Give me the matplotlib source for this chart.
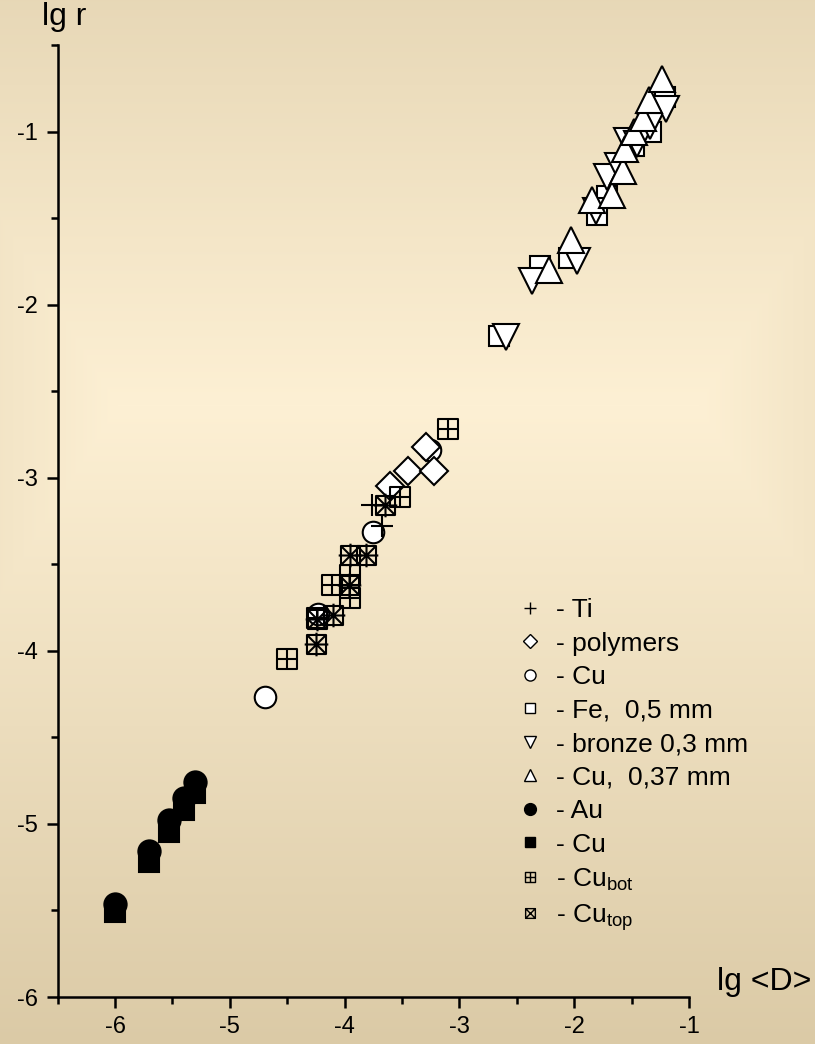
#Scaling of lg r against lg <D> for several materials.

import numpy as np
import matplotlib
matplotlib.use("Agg")
import matplotlib.pyplot as plt
from matplotlib.path import Path
from matplotlib.lines import Line2D

#Font settings.
plt.rcParams['font.family'] = ['Liberation Sans', 'DejaVu Sans']
plt.rcParams['mathtext.fontset'] = 'custom'
plt.rcParams['mathtext.rm'] = 'Liberation Sans'

#Data: lg <D> (x) and lg r (y) for every series.
ti_x = [-3.764, -3.677]
ti_y = [-3.156, -3.281]
poly_x = [-3.294, -3.450, -3.218, -3.604]
poly_y = [-2.825, -2.960, -2.963, -3.046]
cu_x = [-4.693, -4.232, -3.753, -3.256]
cu_y = [-4.266, -3.790, -3.312, -2.838]
fe_x = [-2.652, -2.298, -2.042, -1.804, -1.717, -1.476, -1.334, -1.209]
fe_y = [-2.183, -1.779, -1.730, -1.480, -1.370, -1.081, -1.004, -0.800]
bronze_x = [-2.596, -2.370, -1.973, -1.810, -1.717, -1.616, -1.537, -1.450, -1.340, -1.200]
bronze_y = [-2.186, -1.865, -1.747, -1.460, -1.262, -1.197, -1.052, -1.070, -0.970, -0.869]
cu37_x = [-2.217, -2.031, -1.848, -1.668, -1.578, -1.557, -1.476, -1.403, -1.346, -1.238]
cu37_y = [-1.800, -1.624, -1.393, -1.364, -1.229, -1.100, -1.004, -0.923, -0.819, -0.694]
au_x = [-6.00, -5.70, -5.53, -5.40, -5.30]
au_y = [-5.460, -5.156, -4.977, -4.851, -4.755]
cub_x = [-6.00, -5.70, -5.53, -5.40, -5.30]
cub_y = [-5.510, -5.220, -5.046, -4.920, -4.820]
bot_x = [-3.097, -3.517, -4.112, -3.953, -3.953, -4.499, -4.238]
bot_y = [-2.719, -3.114, -3.618, -3.692, -3.561, -4.046, -3.810]
top_x = [-3.648, -3.953, -3.814, -3.959, -4.104, -4.238, -4.249]
top_y = [-3.156, -3.445, -3.445, -3.618, -3.792, -3.817, -3.961]

xticks = [-6, -5, -4, -3, -2, -1]
yticks = [-6, -5, -4, -3, -2, -1]

#Custom markers: square with a cross inside, square with diagonals.
def square_path(plus=0.0, diag=False, cross=True):
    verts = [(-0.5, -0.5), (0.5, -0.5), (0.5, 0.5), (-0.5, 0.5), (-0.5, -0.5)]
    codes = [Path.MOVETO] + [Path.LINETO]*3 + [Path.CLOSEPOLY]
    e = 0.5 + plus
    if cross:
        verts += [(-e, 0), (e, 0), (0, -e), (0, e)]
        codes += [Path.MOVETO, Path.LINETO, Path.MOVETO, Path.LINETO]
    if diag:
        verts += [(-0.5, -0.5), (0.5, 0.5), (-0.5, 0.5), (0.5, -0.5)]
        codes += [Path.MOVETO, Path.LINETO, Path.MOVETO, Path.LINETO]
    return Path(verts, codes)

bot_marker = square_path()
top_marker = square_path(plus=0.12, diag=True)
top_legend_marker = square_path(diag=True, cross=False)

fig = plt.figure(figsize=(8.15, 10.44), dpi=100)

#Background gradient, lighter towards the middle.
bg = fig.add_axes([0, 0, 1, 1], zorder=-1)
H, W = 1044, 815
yy, xx = np.mgrid[0:H, 0:W]
d = np.maximum(1.6*np.maximum(0, np.abs(xx - 408) - 290), np.abs(yy - 405))
t = np.clip(d/640.0, 0, 1)
c0 = np.array([253, 240, 212])/255.0
c1 = np.array([219, 202, 166])/255.0
img = c0[None, None, :]*(1 - t[..., None]) + c1[None, None, :]*t[..., None]
bg.imshow(img, aspect='auto', extent=[0, 1, 0, 1], interpolation='bilinear')
bg.axis('off')

ax = fig.add_axes([0.0707, 0.045, 0.7747, 0.9119])
ax.set_facecolor('none')

lw = 1.5
common = dict(ls='none', mec='k', mew=lw, clip_on=False)
ax.plot(fe_x, fe_y, marker='s', ms=14, mfc='white', **common)
ax.plot(bronze_x, bronze_y, marker='v', ms=19, mfc='white', **common)
ax.plot(cu37_x, cu37_y, marker='^', ms=19, mfc='white', **common)
ax.plot(cu_x, cu_y, marker='o', ms=15.5, mfc='white', **common)
ax.plot(poly_x, poly_y, marker='D', ms=14.5, mfc='white', **common)
ax.plot(bot_x, bot_y, marker=bot_marker, ms=14, mfc='none', **common)
ax.plot(top_x, top_y, marker=top_marker, ms=17, mfc='none', **common)
ax.plot(ti_x, ti_y, marker='+', ms=16, **common)
ax.plot(au_x, au_y, marker='o', ms=16, mfc='k', **common)
ax.plot(cub_x, cub_y, marker='s', ms=14.5, mfc='k', **common)

#Axes limits, ticks and spines.
ax.set_xlim(-6.5, -1)
ax.set_ylim(-6, -0.5)
ax.set_xticks(xticks)
ax.set_yticks(yticks)
ax.set_xticklabels([str(v) for v in xticks])
ax.set_yticklabels([str(v) for v in yticks])
ax.set_xticks(np.arange(-6.5, -0.9, 0.5), minor=True)
ax.set_yticks(np.arange(-5.5, -0.4, 0.5), minor=True)
ax.tick_params(which='major', direction='out', length=8, width=1.8, labelsize=17, pad=6)
ax.tick_params(which='minor', direction='out', length=5, width=1.8)
for s in ['top', 'right']:
    ax.spines[s].set_visible(False)
for s in ['left', 'bottom']:
    ax.spines[s].set_linewidth(1.8)

#Axis titles.
fig.text(0.051, 0.969, "lg r", fontsize=23, ha='left', va='bottom')
fig.text(0.880, 0.045, "lg <D>", fontsize=23, ha='left', va='bottom')

#Legend.
def proxy(marker, ms, mfc):
    return Line2D([], [], ls='none', marker=marker, ms=ms, mfc=mfc, mec='k', mew=1.0)

handles = [proxy('+', 8, 'none'), proxy('D', 7, 'white'), proxy('o', 8, 'white'),
           proxy('s', 7.5, 'white'), proxy('v', 9, 'white'), proxy('^', 9, 'white'),
           proxy('o', 8.5, 'k'), proxy('s', 7.5, 'k'), proxy(bot_marker, 7, 'none'),
           proxy(top_legend_marker, 7, 'none')]
labels = ["- Ti", "- polymers", "- Cu", "- Fe,  0,5 mm", "- bronze 0,3 mm",
          "- Cu,  0,37 mm", "- Au", "- Cu", r"- Cu$_\mathregular{bot}$", r"- Cu$_\mathregular{top}$"]
ax.legend(handles, labels, loc='upper left', bbox_to_anchor=(0.71, 0.43),
          frameon=False, fontsize=19, handletextpad=0.5, labelspacing=0.36,
          handlelength=1.0, borderaxespad=0)

fig.savefig("out.png", dpi=100)
